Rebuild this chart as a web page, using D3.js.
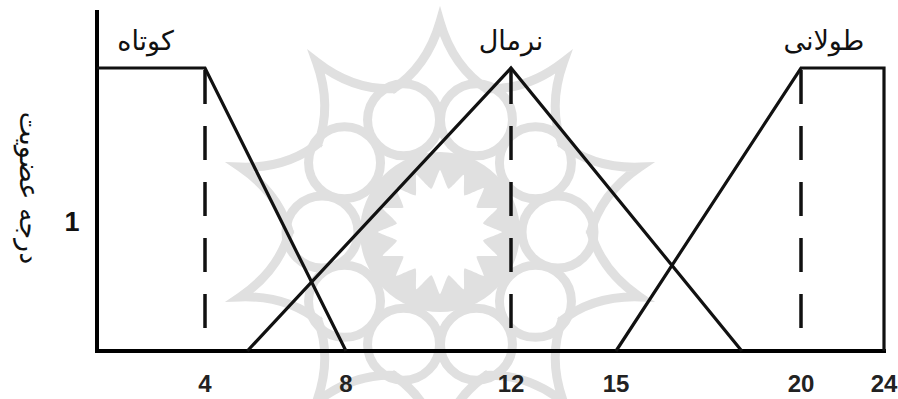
<!DOCTYPE html>
<html>
<head>
<meta charset="utf-8">
<script src="https://cdn.jsdelivr.net/npm/d3@7"></script>
<style>
  body { margin: 0; background: #fff; }
  svg { display: block; }
</style>
</head>
<body>
<div id="chart"></div>
<script>
// axis breaks (the drawn axis is not evenly spaced)
const xBreaks = [0, 4, 8, 12, 15, 20, 24]
const xTicks = [4, 8, 12, 15, 20, 24]

// membership functions
const shortX = [0, 4, 8]
const shortY = [1, 1, 0]
const normalX = [5.2, 12, 18.4]
const normalY = [0, 1, 0]
const longX = [15, 20, 24, 24]
const longY = [0, 1, 1, 0]

const dashedAt = [4, 12, 20]
const setNames = ['کوتاه', 'نرمال', 'طولانی']
const setLabelAt = [1.8, 12, 21.1]
const yTitle = 'درجه عضویت'

const width = 898, height = 399

let svg = d3.select('#chart')
    .append('svg')
    .attr('width', width)
    .attr('height', height)

let x = d3.scaleLinear()
    .domain(xBreaks)
    .range([97, 205, 346, 511, 616, 801, 884])

let y = d3.scaleLinear()
    .domain([0, 1])
    .range([351, 68])

// faint rosette watermark behind the chart
let wm = svg.append('g')
    .attr('transform', 'translate(440,232)')
    .style('fill', 'none')
    .style('stroke', '#e0e0e0')

wm.append('circle').attr('r', 80).style('fill', '#e0e0e0').style('stroke', 'none')
let starPts = d3.range(32).map(i => {
    let a = i * Math.PI / 16
    let r = i % 2 ? 44 : 62
    return [r * Math.sin(a), -r * Math.cos(a)]
})
wm.append('path')
    .attr('d', d3.line().curve(d3.curveCardinalClosed.tension(0.6))(starPts))
    .style('fill', '#fff').style('stroke', 'none')

d3.range(10).forEach(i => {
    let a = i * Math.PI / 5 + Math.PI / 10
    wm.append('circle')
        .attr('cx', 118 * Math.sin(a))
        .attr('cy', -118 * Math.cos(a))
        .attr('r', 36)
        .style('stroke-width', 9)
})
d3.range(10).forEach(i => {
    let a = i * Math.PI / 5
    let p = (r, t) => [r * Math.sin(t), -r * Math.cos(t)]
    let s = p(150, a - 0.33), tip = p(210, a), e = p(150, a + 0.33)
    let c1 = p(165, a - 0.08), c2 = p(165, a + 0.08)
    wm.append('path')
        .attr('d', `M${s}Q${c1} ${tip}Q${c2} ${e}`)
        .style('stroke-width', 9)
})

let line = d3.line()
    .x(d => x(d[0]))
    .y(d => y(d[1]))

// axes
svg.append('line')
    .attr('x1', x(0)).attr('x2', x(0))
    .attr('y1', 10).attr('y2', y(0) + 2)
    .style('stroke', '#000').style('stroke-width', 4)

svg.append('line')
    .attr('x1', x(0) - 2).attr('x2', x(24) + 2)
    .attr('y1', y(0)).attr('y2', y(0))
    .style('stroke', '#000').style('stroke-width', 4)

// dashed verticals under the peaks
svg.selectAll('.dash')
    .data(dashedAt)
    .join('line')
    .attr('class', 'dash')
    .attr('x1', d => x(d)).attr('x2', d => x(d))
    .attr('y1', y(1) + 2).attr('y2', y(0.07))
    .style('stroke', '#111')
    .style('stroke-width', 3.5)
    .style('stroke-dasharray', '34,22')

let sets = [
    d3.zip(shortX, shortY),
    d3.zip(normalX, normalY),
    d3.zip(longX, longY)
]

svg.selectAll('.mf')
    .data(sets)
    .join('path')
    .attr('class', 'mf')
    .attr('d', line)
    .style('fill', 'none')
    .style('stroke', '#111')
    .style('stroke-width', 3.2)
    .style('stroke-linejoin', 'miter')

// tick labels
svg.selectAll('.tick')
    .data(xTicks)
    .join('text')
    .attr('class', 'tick')
    .attr('x', d => x(d))
    .attr('y', 392)
    .attr('text-anchor', 'middle')
    .style('font-family', 'Liberation Sans, Arial, sans-serif')
    .style('font-weight', 'bold')
    .style('font-size', '24px')
    .style('fill', '#222')
    .text(d => d)

svg.append('text')
    .attr('x', 72)
    .attr('y', 231)
    .attr('text-anchor', 'middle')
    .style('font-family', 'Liberation Sans, Arial, sans-serif')
    .style('font-weight', 'bold')
    .style('font-size', '27px')
    .style('fill', '#111')
    .text('1')

// set names
svg.selectAll('.name')
    .data(setNames)
    .join('text')
    .attr('class', 'name')
    .attr('x', (d, i) => x(setLabelAt[i]))
    .attr('y', 50)
    .attr('text-anchor', 'middle')
    .attr('direction', 'rtl')
    .style('font-family', 'DejaVu Sans, sans-serif')
    .style('font-size', '27px')
    .style('fill', '#111')
    .text(d => d)

svg.append('text')
    .attr('transform', 'translate(20,188) rotate(90)')
    .attr('text-anchor', 'middle')
    .attr('direction', 'rtl')
    .style('font-family', 'DejaVu Sans, sans-serif')
    .style('font-size', '27px')
    .style('fill', '#111')
    .text(yTitle)
</script>
</body>
</html>
